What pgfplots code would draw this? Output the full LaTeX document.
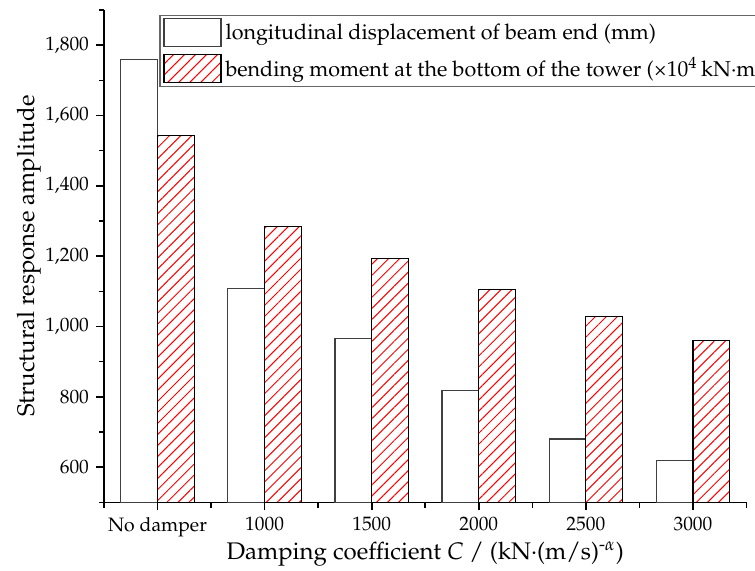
\documentclass[border=0pt]{standalone}
\usepackage[T1]{fontenc}
\usepackage{mathpazo}
\usepackage{pgfplots}
\pgfplotsset{compat=1.18}
\usetikzlibrary{patterns.meta}

% structural response for each damping coefficient
\pgfplotstableread{
idx disp moment
0 1760 1542
1 1109 1284
2 966  1193
3 819  1105
4 680  1028
5 620  960
}\responsedata

\begin{document}
\begin{tikzpicture}
\begin{axis}[
  at={(0,0)}, anchor=south west,
  scale only axis, width=321.25pt, height=246.15pt,
  xmin=-0.5, xmax=5.5, ymin=500, ymax=1900,
  axis lines=left,
  axis line style={-, line width=0.8pt},
  ybar=0pt, bar width=0.343,
  xtick={0,...,5},
  xticklabels={No damper,1000,1500,2000,2500,3000},
  minor xtick={-0.5,0.5,...,5.5},
  ytick={600,800,...,1800},
  minor ytick={500,700,...,1900},
  tick align=outside,
  major tick length=4pt, minor tick length=2.6pt,
  tick style={black, line width=0.8pt},
  /pgf/number format/assume math mode=true,
  /pgf/number format/1000 sep={,},
  tick label style={font=\fontsize{9.7}{11}\selectfont},
  xlabel={Damping coefficient \textit{C} / (kN\textperiodcentered(m/s)\textsuperscript{-$\alpha$})},
  ylabel={Structural response amplitude},
  label style={font=\fontsize{12}{14}\selectfont},
  xlabel style={at={(axis description cs:0.5,-0.105)}, anchor=center},
  ylabel style={at={(axis description cs:-0.117,0.5)}, anchor=center},
  legend cell align=left,
  legend image code/.code={\draw[#1] (0pt,-7pt) rectangle (28.5pt,7pt);},
  legend style={
    at={(axis description cs:0.0861,0.9905)}, anchor=north west,
    draw=black!60, line width=0.6pt,
    font=\fontsize{10.75}{13}\selectfont,
    inner xsep=1.7pt, inner ysep=1.5pt, row sep=3pt,
  },
]
\addplot[draw=black!75, fill=white, line width=0.6pt]
  table[x=idx, y=disp] {\responsedata};
\addplot[draw=black, line width=0.6pt,
  pattern={Lines[angle=45, distance=3.9pt, line width=0.5pt]}, pattern color=red]
  table[x=idx, y=moment] {\responsedata};
\legend{longitudinal displacement of beam end (mm),
  bending moment at the bottom of the tower (\texttimes10\textsuperscript{4}\,kN\textperiodcentered m)}
\end{axis}
\pgfresetboundingbox
\useasboundingbox (-52pt,-33.85pt) rectangle (325.5pt,251.15pt);
\end{tikzpicture}
\end{document}
